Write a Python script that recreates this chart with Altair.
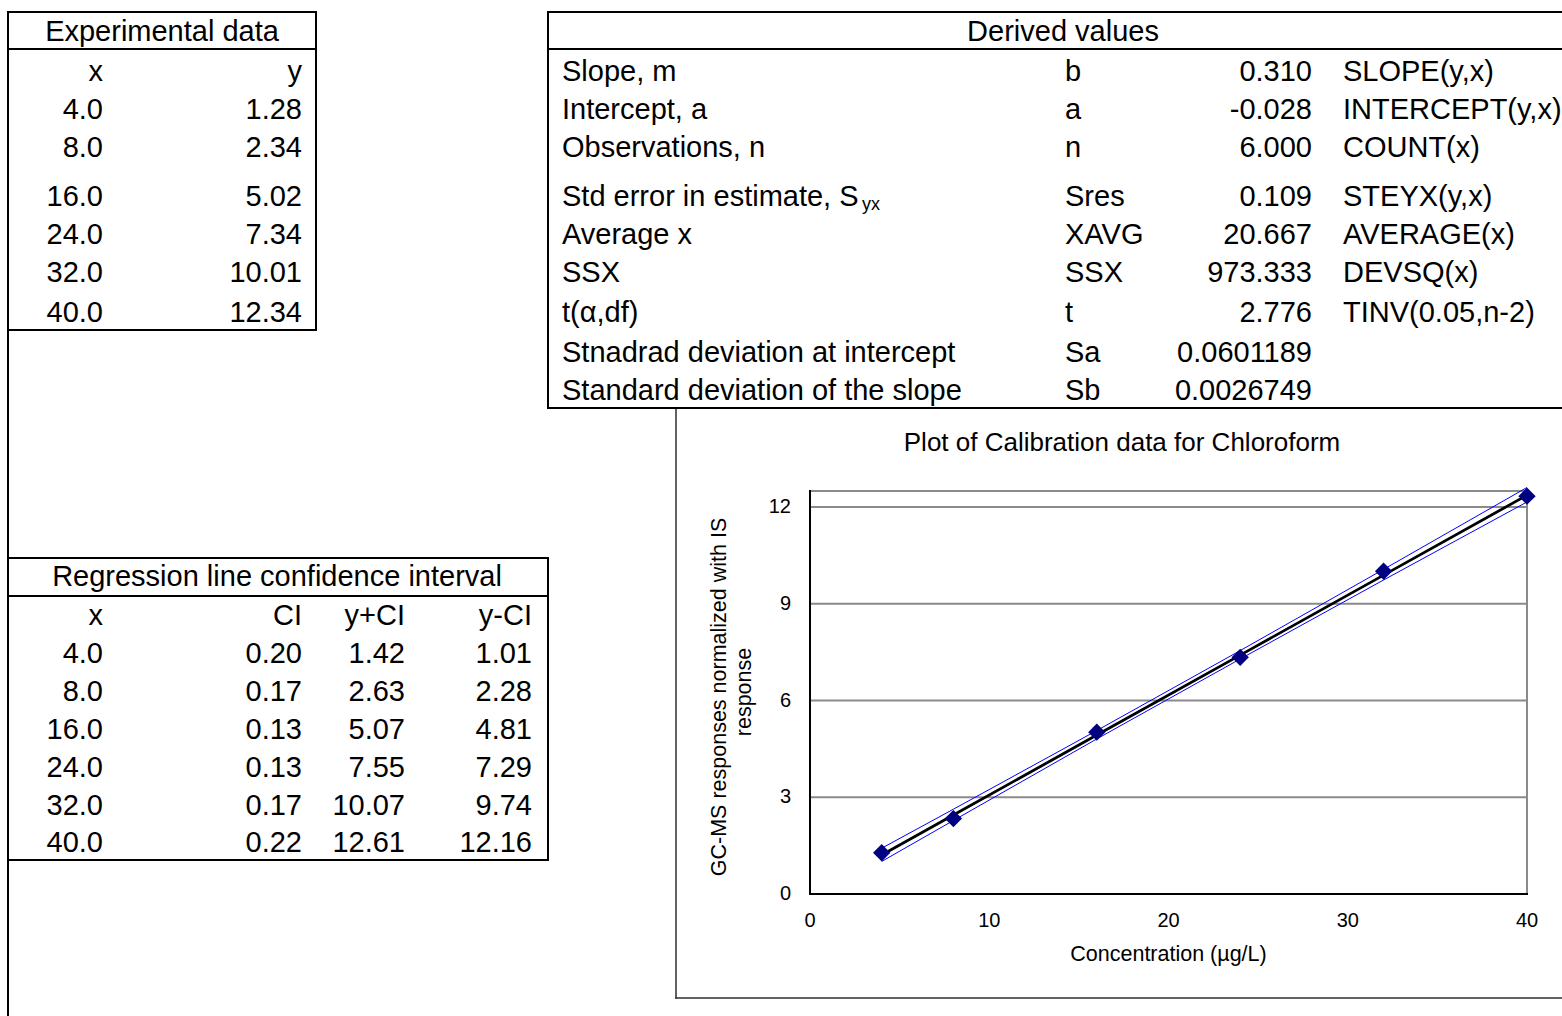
import altair as alt
import pandas as pd

# ---------------- data ----------------
exp_x = [4.0, 8.0, 16.0, 24.0, 32.0, 40.0]
exp_y = [1.28, 2.34, 5.02, 7.34, 10.01, 12.34]

der_labels = ["Slope, m", "Intercept, a", "Observations, n", "Std error in estimate, S",
              "Average x", "SSX", "t(\u03b1,df)", "Stnadrad deviation at intercept",
              "Standard deviation of the slope"]
der_symbols = ["b", "a", "n", "Sres", "XAVG", "SSX", "t", "Sa", "Sb"]
der_values = ["0.310", "-0.028", "6.000", "0.109", "20.667", "973.333", "2.776",
              "0.0601189", "0.0026749"]
der_formulas = ["SLOPE(y,x)", "INTERCEPT(y,x)", "COUNT(x)", "STEYX(y,x)", "AVERAGE(x)",
                "DEVSQ(x)", "TINV(0.05,n-2)", "", ""]

ci_half = [0.20, 0.17, 0.13, 0.13, 0.17, 0.22]
ci_upper = [1.42, 2.63, 5.07, 7.55, 10.07, 12.61]
ci_lower = [1.01, 2.28, 4.81, 7.29, 9.74, 12.16]
fit_y = [1.21, 2.45, 4.93, 7.41, 9.89, 12.37]

x_ticks = [0, 10, 20, 30, 40]
y_ticks = [0, 3, 6, 9, 12]
y_grid = [3, 6, 9, 12]
X_DOMAIN = [0, 40]
Y_DOMAIN = [0, 12.5]

plot_title = "Plot of Calibration data for Chloroform"
x_title = "Concentration (\u00b5g/L)"
y_title = ["GC-MS responses normalized with IS", "response"]

# ---------------- layout (pixels) ----------------
W, H = 1562, 1016
FONT = "Liberation Sans, Arial, Helvetica, sans-serif"
TS = 29
ROWS_TOP = [72, 110, 148, 197, 235, 273, 313, 353, 391]
ROWS_BOT = [616, 654, 692, 730, 768, 806, 843]
PLOT_L, PLOT_R, PLOT_B, PLOT_T = 810, 1527, 894, 491

PX = alt.Scale(domain=[0, W], range=[0, W], nice=False, zero=False)
PY = alt.Scale(domain=[0, H], range=[0, H], nice=False, zero=False)

# text cells
right_cells = [("x", 103, ROWS_TOP[0]), ("y", 302, ROWS_TOP[0])]
for i in range(len(exp_x)):
    right_cells.append((f"{exp_x[i]:.1f}", 103, ROWS_TOP[i + 1]))
    right_cells.append((f"{exp_y[i]:.2f}", 302, ROWS_TOP[i + 1]))
for i, v in enumerate(der_values):
    right_cells.append((v, 1312, ROWS_TOP[i]))
reg_cols = [103, 302, 405, 532]
for t, c in zip(["x", "CI", "y+CI", "y-CI"], reg_cols):
    right_cells.append((t, c, ROWS_BOT[0]))
for i in range(len(exp_x)):
    vals = [f"{exp_x[i]:.1f}", f"{ci_half[i]:.2f}", f"{ci_upper[i]:.2f}", f"{ci_lower[i]:.2f}"]
    for t, c in zip(vals, reg_cols):
        right_cells.append((t, c, ROWS_BOT[i + 1]))

left_cells = []
for i in range(len(der_labels)):
    left_cells.append((der_labels[i], 562, ROWS_TOP[i]))
    left_cells.append((der_symbols[i], 1065, ROWS_TOP[i]))
    if der_formulas[i]:
        left_cells.append((der_formulas[i], 1343, ROWS_TOP[i]))

center_cells = [("Experimental data", 162, 32), ("Derived values", 1063, 32),
                ("Regression line confidence interval", 277, 577)]


def cells_df(cells):
    return pd.DataFrame(cells, columns=["t", "px", "py"])


def text_layer(cells, align, size=TS, angle=0):
    return alt.Chart(cells_df(cells)).mark_text(
        align=align, baseline="middle", font=FONT, fontSize=size, color="black", angle=angle
    ).encode(
        x=alt.X("px:Q", scale=PX, axis=None),
        y=alt.Y("py:Q", scale=PY, axis=None),
        text="t:N",
    )


# borders
black_segments = [
    (8, 12, 316, 12), (8, 49, 316, 49), (8, 330, 316, 330), (316, 12, 316, 330),
    (8, 12, 8, 1016),
    (548, 12, 1562, 12), (548, 49, 1562, 49), (548, 408, 1562, 408), (548, 12, 548, 408),
    (8, 558, 548, 558), (8, 596, 548, 596), (8, 860, 548, 860), (548, 558, 548, 860),
]
frame_segments = [(676, 408, 676, 998), (676, 998, 1562, 998)]


def seg_layer(segs, color, width):
    df = pd.DataFrame(segs, columns=["a", "b", "c", "d"])
    return alt.Chart(df).mark_rule(color=color, strokeWidth=width, strokeCap="square").encode(
        x=alt.X("a:Q", scale=PX, axis=None),
        y=alt.Y("b:Q", scale=PY, axis=None),
        x2="c:Q",
        y2="d:Q",
    )


tables = alt.layer(
    seg_layer(frame_segments, "#2e2e2e", 1.5),
    seg_layer(black_segments, "black", 2),
    text_layer(right_cells, "right"),
    text_layer(left_cells, "left"),
    text_layer(center_cells, "center"),
    text_layer([("yx", 862, 205)], "left", 18),
    text_layer([(plot_title, 1122, 443)], "center", 26),
    text_layer([(x_title, (PLOT_L + PLOT_R) / 2, 955)], "center", 21.5),
    text_layer([(y_title[0], 720, 697)], "center", 21.5, 270),
    text_layer([(y_title[1], 745, 692)], "center", 21.5, 270),
)

# ---------------- plot (data scales) ----------------
XS = alt.Scale(domain=X_DOMAIN, range=[PLOT_L, PLOT_R], nice=False, zero=False)
YS = alt.Scale(domain=Y_DOMAIN, range=[PLOT_B, PLOT_T], nice=False, zero=False)


def data_segs(segs, color, width):
    df = pd.DataFrame(segs, columns=["x", "y", "x2", "y2"])
    return alt.Chart(df).mark_rule(color=color, strokeWidth=width, strokeCap="square").encode(
        x=alt.X("x:Q", scale=XS, axis=None),
        y=alt.Y("y:Q", scale=YS, axis=None),
        x2="x2:Q",
        y2="y2:Q",
    )


grey_segs = [(X_DOMAIN[0], g, X_DOMAIN[1], g) for g in y_grid]
grey_segs += [(X_DOMAIN[0], Y_DOMAIN[1], X_DOMAIN[1], Y_DOMAIN[1]),
              (X_DOMAIN[1], Y_DOMAIN[0], X_DOMAIN[1], Y_DOMAIN[1])]
axis_segs = [(X_DOMAIN[0], Y_DOMAIN[0], X_DOMAIN[1], Y_DOMAIN[0]),
             (X_DOMAIN[0], Y_DOMAIN[0], X_DOMAIN[0], Y_DOMAIN[1])]

xlab = alt.Chart(pd.DataFrame({"v": x_ticks, "base": Y_DOMAIN[0]})).mark_text(
    align="center", baseline="middle", dy=27, font=FONT, fontSize=20, color="black"
).encode(
    x=alt.X("v:Q", scale=XS, axis=None),
    y=alt.Y("base:Q", scale=YS, axis=None),
    text=alt.Text("v:Q", format="d"),
)
ylab = alt.Chart(pd.DataFrame({"v": y_ticks, "base": X_DOMAIN[0]})).mark_text(
    align="right", baseline="middle", dx=-19, font=FONT, fontSize=20, color="black"
).encode(
    x=alt.X("base:Q", scale=XS, axis=None),
    y=alt.Y("v:Q", scale=YS, axis=None),
    text=alt.Text("v:Q", format="d"),
)

line_df = pd.DataFrame({"x": exp_x, "hi": ci_upper, "lo": ci_lower, "fit": fit_y})


def line_layer(field, color, width):
    return alt.Chart(line_df).mark_line(color=color, strokeWidth=width).encode(
        x=alt.X("x:Q", scale=XS, axis=None),
        y=alt.Y(f"{field}:Q", scale=YS, axis=None),
    )


pts = alt.Chart(pd.DataFrame({"x": exp_x, "y": exp_y})).mark_point(
    shape="diamond", filled=True, size=300, color="#000080", opacity=1
).encode(
    x=alt.X("x:Q", scale=XS, axis=None),
    y=alt.Y("y:Q", scale=YS, axis=None),
)

plot = alt.layer(
    data_segs(grey_segs, "#8a8a8a", 2),
    data_segs(axis_segs, "black", 2),
    xlab,
    ylab,
    line_layer("hi", "#0000ff", 1),
    line_layer("lo", "#0000ff", 1),
    line_layer("fit", "black", 2.8),
    pts,
)

chart = alt.layer(tables, plot).resolve_scale(
    x="independent", y="independent"
).properties(
    width=W, height=H, padding=0, autosize="none", background="white"
).configure_view(stroke=None)

chart.save("out.html", embed_options={"renderer": "svg", "actions": False})
